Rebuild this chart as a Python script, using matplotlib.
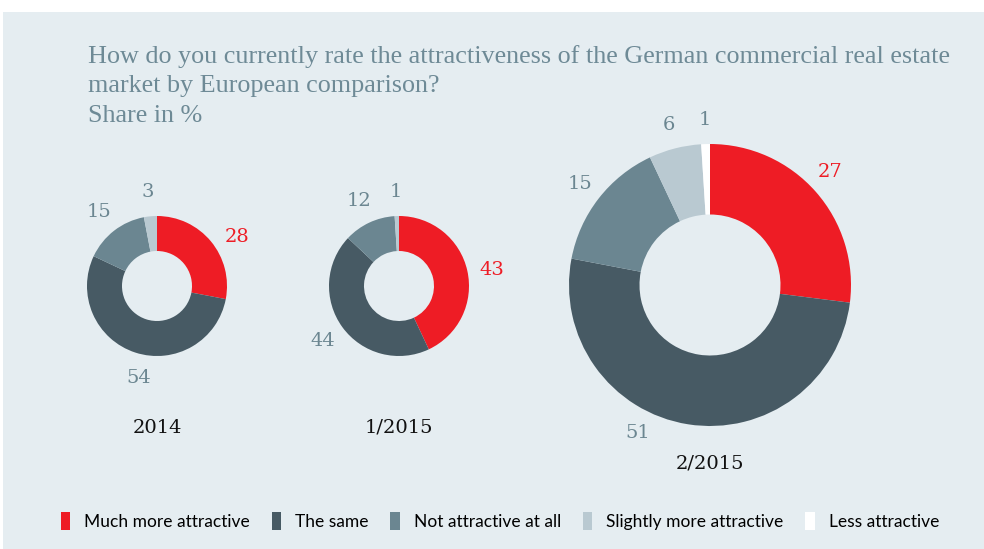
import numpy as np
import matplotlib
matplotlib.use('Agg')
import matplotlib.pyplot as plt
from matplotlib.patches import Rectangle, Patch

# Data
categories = ['Much more attractive', 'The same', 'Not attractive at all',
              'Slightly more attractive', 'Less attractive']
colors = ['#ee1c25', '#475a64', '#6b8691', '#b9c9d1', '#ffffff']
label_colors = ['#ee1c25', '#6b8691', '#6b8691', '#6b8691', '#6b8691']
periods = ['2014', '1/2015', '2/2015']
values_2014 = [28, 54, 15, 3, 0]
values_1_2015 = [43, 44, 12, 1, 0]
values_2_2015 = [27, 51, 15, 6, 1]
all_values = [values_2014, values_1_2015, values_2_2015]

# small angle nudges (degrees) for the value labels
label_nudge = [[-8, 7, 0, 0, 0], [-3, 0, 0, 0, 0], [2, -17, 0, 0, 0]]

H = 549
def Y(py):
    # pixel row (from top) -> data y
    return H - py

# layout (pixels)
centers = [(157, 286), (399, 286), (710, 285)]
radii = [70, 70, 141]
year_y = [428, 428, 464]

bg = '#e5edf1'
fig = plt.figure(figsize=(9.84, 5.49), dpi=100)
ax = fig.add_axes([0, 0, 1, 1])
ax.add_patch(Rectangle((3, 0), 981, H - 12, facecolor=bg, edgecolor='none', zorder=0))

for vals, c, r, yy, name, nudge in zip(all_values, centers, radii, year_y, periods, label_nudge):
    cx, cy = c[0], Y(c[1])
    wedges, _ = ax.pie(vals, colors=colors, startangle=90, counterclock=False,
                       center=(cx, cy), radius=r, wedgeprops=dict(width=r * 0.5, edgecolor='none'),
                       frame=True)
    for w, v, lc, n in zip(wedges, vals, label_colors, nudge):
        if v == 0:
            continue
        ang = np.deg2rad((w.theta1 + w.theta2) / 2 + n)
        d = r + 24
        ax.text(cx + d * np.cos(ang), cy + d * np.sin(ang), str(v),
                color=lc, fontsize=14, family='DejaVu Serif', ha='center', va='center')
    ax.text(cx, Y(yy), name, fontsize=14, family='DejaVu Serif', color='#111111',
            ha='center', va='center')

ax.set_xlim(0, 984)
ax.set_ylim(0, H)
ax.set_aspect('equal')
ax.axis('off')

title_color = '#6e8a96'
ax.text(88, Y(57), 'How do you currently rate the attractiveness of the German commercial real estate',
        fontsize=18.8, family='Liberation Serif', color=title_color, va='center')
ax.text(88, Y(86), 'market by European comparison?',
        fontsize=18.8, family='Liberation Serif', color=title_color, va='center')
ax.text(88, Y(116), 'Share in %', fontsize=18.8, family='Liberation Serif', color=title_color, va='center')

handles = [Patch(facecolor=col, edgecolor='none') for col in colors]
leg = ax.legend(handles, categories, loc='center', bbox_to_anchor=(500 / 984, 1 - 521 / H),
                ncol=5, frameon=False, handlelength=0.55, handleheight=1.2, handletextpad=0.8,
                columnspacing=1.25, prop={'family': ['Lato', 'DejaVu Sans'], 'size': 12.5})

fig.savefig('out.png', dpi=100, facecolor='white')
